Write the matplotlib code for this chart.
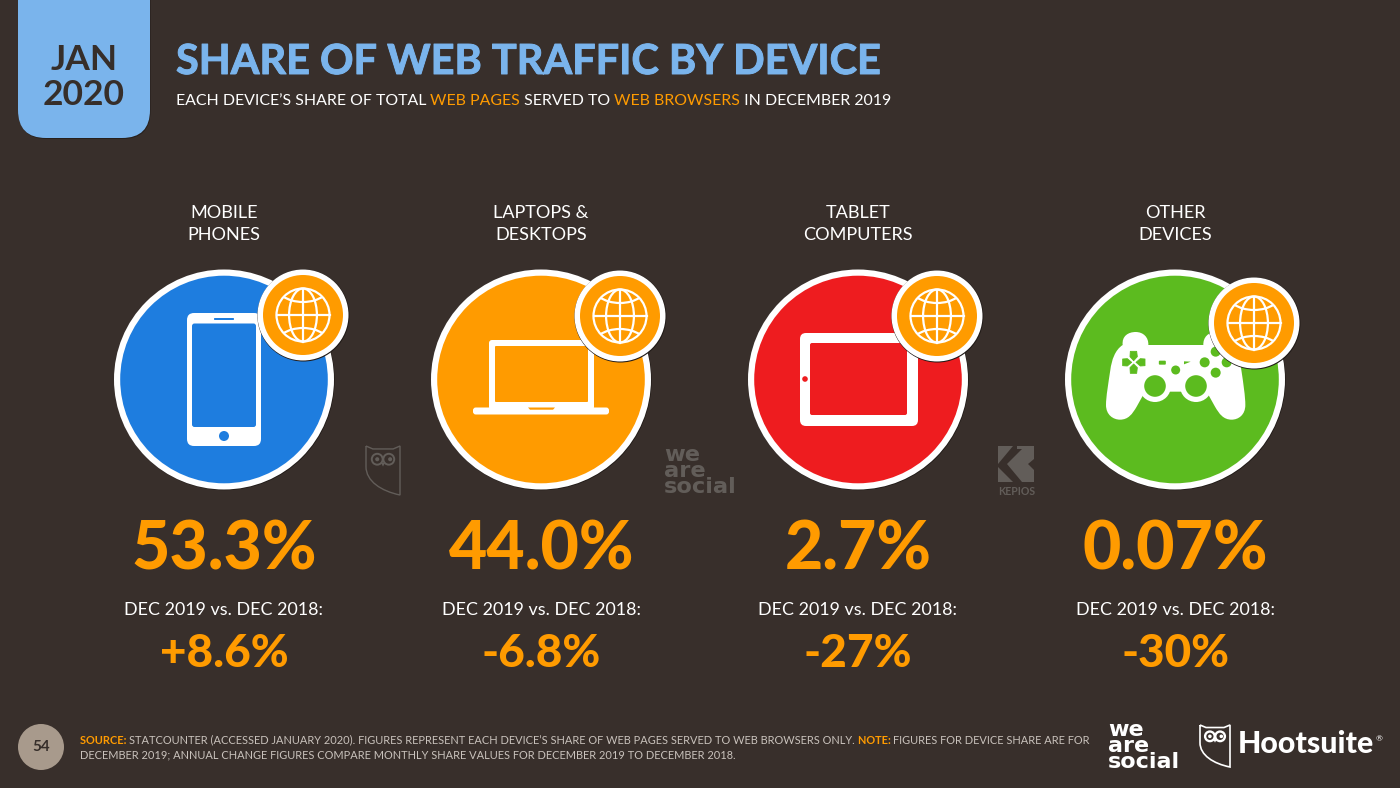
import matplotlib
matplotlib.use("Agg")
import matplotlib.pyplot as plt
import matplotlib.patheffects as pe
from matplotlib.patches import Circle, FancyBboxPatch, Rectangle, Polygon, Ellipse, Arc, PathPatch
from matplotlib.path import Path

# ---------- data ----------
DEVICES = ["MOBILE\nPHONES", "LAPTOPS &\nDESKTOPS", "TABLET\nCOMPUTERS", "OTHER\nDEVICES"]
SHARE_LABELS = ["53.3%", "44.0%", "2.7%", "0.07%"]
CHANGE_LABELS = ["+8.6%", "-6.8%", "-27%", "-30%"]
CHANGE_CAPTION = "DEC 2019 vs. DEC 2018:"
CIRCLE_COLORS = ["#1E7DDF", "#FF9B00", "#EE1C1F", "#5CBB1F"]
TITLE = "SHARE OF WEB TRAFFIC BY DEVICE"
SUBTITLE = [("EACH DEVICE\u2019S SHARE OF TOTAL ", "w"), ("WEB PAGES", "o"), (" SERVED TO ", "w"),
            ("WEB BROWSERS", "o"), (" IN DECEMBER 2019", "w")]
FOOT1 = [("SOURCE: ", "ob"), ("STATCOUNTER (ACCESSED JANUARY 2020). FIGURES REPRESENT EACH DEVICE\u2019S SHARE OF WEB PAGES SERVED TO WEB BROWSERS ONLY. ", "g"),
         ("NOTE: ", "ob"), ("FIGURES FOR DEVICE SHARE ARE FOR", "g")]
FOOT2 = [("DECEMBER 2019; ANNUAL CHANGE FIGURES COMPARE MONTHLY SHARE VALUES FOR DECEMBER 2019 TO DECEMBER 2018.", "g")]

BG = "#382F2B"; ORANGE = "#FF9B00"; SKY = "#7AB4EC"; DARK = "#362E2A"; GREY = "#C9C2BC"; LOGO = "#625D59"
FONT = "Lato"
CX = [224, 541, 858, 1175]
BADGE = [(303, 315), (620, 316), (937, 316), (1254, 323)]

fig = plt.figure(figsize=(14, 7.88), dpi=100, facecolor=BG)
ax = fig.add_axes([0, 0, 1, 1])
ax.set_xlim(0, 1400); ax.set_ylim(788, 0); ax.axis("off"); ax.set_aspect("equal")


def rrect(x0, y0, x1, y1, r, color, z=3, **kw):
    p = FancyBboxPatch((x0 + r, y0 + r), x1 - x0 - 2 * r, y1 - y0 - 2 * r,
                       boxstyle=f"round,pad={r},rounding_size={r}", fc=color, ec="none", zorder=z, **kw)
    ax.add_patch(p)
    return p


def circ(x, y, r, color, z=3):
    ax.add_patch(Circle((x, y), r, fc=color, ec="none", zorder=z))


def rich(x, y, parts, size, styles):
    r = fig.canvas.get_renderer()
    for s, k in parts:
        col, wt = styles[k]
        t = ax.text(x, y, s.replace(" ", "\u00a0"), fontsize=size, color=col, fontweight=wt, family=FONT,
                    ha="left", va="center_baseline", zorder=6)
        x += t.get_window_extent(r).width


def globe(x, y):
    r = 26.5
    lw = 1.6
    k = dict(fc="none", ec="white", lw=lw, zorder=8)
    ax.add_patch(Circle((x, y), r, **k))
    ax.add_patch(Ellipse((x, y), r * 1.05, 2 * r, **k))
    ax.plot([x, x], [y - r, y + r], color="white", lw=lw, zorder=8)
    ax.plot([x - r, x + r], [y, y], color="white", lw=lw, zorder=8)
    clip = Circle((x, y), r, transform=ax.transData)
    for sgn in (-1, 1):
        a = Arc((x, y + sgn * 33), 58, 40, theta1=0, theta2=360, ec="white", lw=lw, zorder=8)
        ax.add_patch(a)
        a.set_clip_path(clip)


def phone(c):
    x = CX[0]
    rrect(x - 37, 313, x + 37, 446, 7, "white", 4)
    rrect(x - 32, 323.5, x + 32, 427, 2.5, c, 5)
    rrect(x - 10, 318, x + 10, 320, 0.8, c, 5)
    circ(x, 436, 5, c, 5)


def laptop(c):
    rrect(489, 340, 594, 410, 3, "white", 4)
    rrect(495, 346, 588, 402, 1, c, 5)
    rrect(473, 407.5, 609, 414.5, 2.8, "white", 5)
    ax.add_patch(Polygon([(528, 407.5), (555, 407.5), (553, 409.7), (530, 409.7)], fc=c, ec="none", zorder=6))


def tablet(c):
    rrect(800, 333, 918, 426, 6, "white", 4)
    rrect(810, 343, 907, 415, 2, c, 5)
    circ(805, 379, 2.8, c, 5)


def gamepad(c):
    ox = 1050; oy = 260
    P = lambda a, b: (ox + a / 3, oy + b / 3)
    M, L, C = Path.MOVETO, Path.LINETO, Path.CURVE4
    seq = [
        (M, (218, 255)),
        (C, (215, 228)), (C, (235, 216)), (C, (257, 216)),
        (C, (280, 216)), (C, (296, 232)), (C, (295, 255)),
        (L, (460, 255)),
        (C, (459, 232)), (C, (475, 216)), (C, (498, 216)),
        (C, (520, 216)), (C, (540, 228)), (C, (538, 258)),
        (C, (560, 270)), (C, (570, 300)), (C, (574, 330)),
        (C, (580, 370)), (C, (586, 410)), (C, (586, 435)),
        (C, (586, 465)), (C, (565, 479)), (C, (545, 479)),
        (C, (520, 479)), (C, (508, 462)), (C, (495, 440)),
        (L, (470, 395)),
        (L, (285, 395)),
        (L, (260, 440)),
        (C, (247, 462)), (C, (235, 479)), (C, (210, 479)),
        (C, (190, 479)), (C, (168, 465)), (C, (168, 435)),
        (C, (168, 410)), (C, (175, 370)), (C, (181, 330)),
        (C, (185, 300)), (C, (195, 270)), (C, (218, 255)),
    ]
    path = Path([P(*q) for _, q in seq], [k for k, _ in seq])
    ax.add_patch(PathPatch(path, fc="white", ec="none", zorder=4))
    # thumb sticks with white rims
    for a in (315, 438):
        px, py = P(a, 378)
        circ(px, py, 16, "white", 4)
        circ(px, py, 10.8, c, 5)
    # d-pad: four pointed pads meeting in an X
    pads = [[(241, 274), (260, 274), (262, 290), (251, 302), (240, 290)],
            [(240, 323), (251, 312), (262, 323), (260, 340), (241, 340)],
            [(218, 297), (232, 296), (245, 307), (232, 318), (218, 317)],
            [(285, 297), (271, 296), (258, 307), (271, 318), (285, 317)]]
    for pad in pads:
        ax.add_patch(Polygon([P(*q) for q in pad], fc=c, ec=c, lw=0.6, joinstyle="round", zorder=5))
    # action buttons
    for a, b in [(464, 307), (497, 338), (497, 275), (530, 307)]:
        px, py = P(a, b)
        circ(px, py, 5, c, 5)
    px, py = P(377, 330)
    circ(px, py, 4.5, c, 5)
    px, py = P(337, 308)
    rrect(px - 3.5, py - 2, px + 3.5, py + 2, 1, c, 5)
    ax.add_patch(Polygon([P(402, 304), P(422, 305), P(402, 313)], fc=c, ec="none", zorder=5))


def owl(x, y, w, h, col, lw=1.0, z=2):
    """Shield outline with ears and two eyes; (x, y) is the top-left corner."""
    M, L, C = Path.MOVETO, Path.LINETO, Path.CURVE4
    v = [(x, y), (x + w * .2, y + h * .06), (x + w * .8, y + h * .06), (x + w, y), (x + w, y + h),
         (x + w * .45, y + h * .92), (x, y + h * .72), (x, y + h * .42), (x, y)]
    codes = [M, L, L, L, L, C, C, C, L]
    ax.add_patch(PathPatch(Path(v, codes), fc="none", ec=col, lw=lw, zorder=z))
    for e in (.33, .67):
        ax.add_patch(Circle((x + w * e, y + h * .27), w * .16, fc="none", ec=col, lw=lw * 1.4, zorder=z))
        circ(x + w * (e + .04 if e > .5 else e - .0), y + h * .27, w * .06, col, z)
    ax.add_patch(Polygon([(x + w * .44, y + h * .34), (x + w * .56, y + h * .34), (x + w * .5, y + h * .42)], fc=col, ec="none", zorder=z))


def kepios(x, y, col):
    ax.add_patch(Polygon([(x, y), (x + 15, y), (x, y + 18)], fc=col, ec="none", zorder=2))
    ax.add_patch(Polygon([(x, y + 21), (x + 15, y + 36), (x, y + 36)], fc=col, ec="none", zorder=2))
    ax.add_patch(Polygon([(x + 9, y + 18), (x + 24, y + 3), (x + 36, y + 3), (x + 36, y + 13), (x + 30, y + 18),
                          (x + 36, y + 24), (x + 36, y + 36), (x + 24, y + 36)], fc=col, ec="none", zorder=2))
    ax.add_patch(Polygon([(x + 19, y), (x + 36, y), (x + 36, y + 3), (x + 19, y + 3)], fc=col, ec="none", zorder=2))
    ax.text(x + 19, y + 45, "KEPIOS", fontsize=7.6, fontweight="bold", color=col, family=FONT, ha="center", va="center", zorder=2)


# ---------- date tab ----------
rrect(18.6, -40, 150.6, 139, 28, "#26201D", 1)
rrect(18, -40, 150, 138, 28, SKY, 2)
ax.text(84, 60, "JAN", fontsize=25.5, fontweight="bold", color=DARK, family=FONT, ha="center", va="center", zorder=3)
ax.text(84, 95, "2020", fontsize=25.5, fontweight="bold", color=DARK, family=FONT, ha="center", va="center", zorder=3)

# ---------- title ----------
ax.text(176, 62.5, TITLE, fontsize=29.85, fontweight="bold", color=SKY, family=FONT, ha="left", va="center",
        zorder=3, path_effects=[pe.withStroke(linewidth=0.7, foreground=SKY)])
fig.canvas.draw()
rich(176, 99, SUBTITLE, 11.43, {"w": ("white", "normal"), "o": (ORANGE, "normal")})

# ---------- panels ----------
icons = [phone, laptop, tablet, gamepad]
for i, x in enumerate(CX):
    c = CIRCLE_COLORS[i]
    ax.text(x, 224, DEVICES[i], fontsize=13.1, color="white", family=FONT, ha="center", va="center",
            linespacing=1.52, zorder=3)
    circ(x + 0.6, 380.2, 110, "#1F1916", 1)
    circ(x, 379.5, 110, "white", 2)
    circ(x, 379.5, 103.8, c, 3)
    icons[i](c)
    bx, by = BADGE[i]
    circ(bx + 0.4, by + 0.5, 46, "#1F1916", 6)
    circ(bx, by, 45.5, "white", 6)
    circ(bx, by, 40, ORANGE, 7)
    globe(bx, by)
    ax.text(x + 0.5, 550, SHARE_LABELS[i], fontsize=47.6, fontweight="black", color=ORANGE, family=FONT,
            ha="center", va="center", zorder=3)
    ax.text(x, 610, CHANGE_CAPTION, fontsize=12.85, color="white", family=FONT, ha="center", va="center", zorder=3)
    ax.text(x, 654, CHANGE_LABELS[i], fontsize=33, fontweight="black", color=ORANGE, family=FONT,
            ha="center", va="center", zorder=3)

# ---------- faint logos ----------
owl(366, 446, 34, 49, LOGO)
ax.text(664, 471, "we\nare\nsocial", fontsize=16.2, fontweight="bold", color=LOGO, family="DejaVu Sans", ha="left", va="center",
        linespacing=0.76, zorder=2)
kepios(998, 446, LOGO)

# ---------- footer ----------
circ(41, 747, 23, "#A89A8C", 3)
ax.text(41, 747, "54", fontsize=11, fontweight="bold", color=DARK, family=FONT, ha="center", va="center", zorder=4)
st = {"ob": (ORANGE, "bold"), "g": (GREY, "normal")}
rich(80, 739, FOOT1, 7.93, st)
rich(80, 754, FOOT2, 7.88, st)
ax.text(1108, 746, "we\nare\nsocial", fontsize=16, fontweight="bold", color="white", family="DejaVu Sans", ha="left", va="center",
        linespacing=0.76, zorder=3)
owl(1200, 725, 30, 42, "white", 1.2, 3)
ax.text(1238, 744, "Hootsuite", fontsize=21.9, fontweight="black", color="white", family=FONT, ha="left", va="center", zorder=3)
ax.text(1376, 739, "\u00ae", fontsize=6, color="white", family=FONT, ha="left", va="center", zorder=3)

fig.savefig("out.png", dpi=100, facecolor=BG)
